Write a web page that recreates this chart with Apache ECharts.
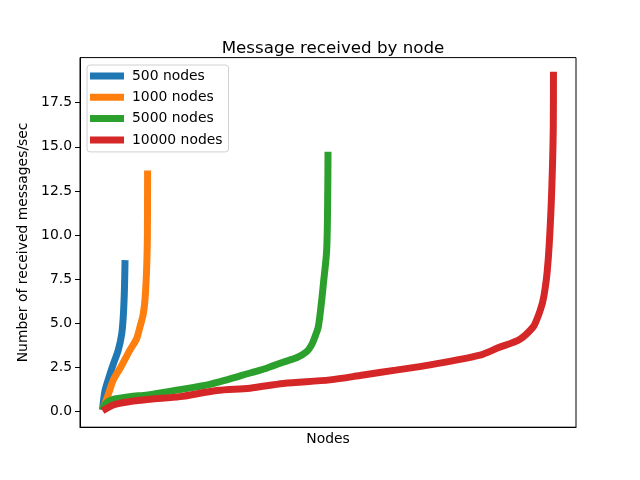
<!DOCTYPE html>
<html>
<head>
    <meta charset="UTF-8">
    <script type="text/javascript" src="https://cdn.jsdelivr.net/npm/echarts@6/dist/echarts.min.js"></script>
    <title>Message received by node</title>
    <style>
        html, body { margin: 0; padding: 0; background: #fff; }
        #chart { width: 640px; height: 480px; }
    </style>
</head>
<body>
    <div id="chart"></div>
    <script type="text/javascript">
    // sorted per-node rates (x = node index, y = messages/sec)
    var seriesNames = ['500 nodes', '1000 nodes', '5000 nodes', '10000 nodes'];
    var seriesColors = ['#1f77b4', '#ff7f0e', '#2ca02c', '#d62728'];
    var yTicks = [0, 2.5, 5, 7.5, 10, 12.5, 15, 17.5];

    var nodes500X = [0, 20, 55, 150, 240, 350, 425, 460, 485, 499];
    var nodes500Y = [0.1, 0.6, 1.2, 2.0, 2.7, 3.5, 4.4, 5.4, 6.9, 8.58];

    var nodes1000X = [0, 60, 130, 240, 400, 610, 750, 830, 900, 940, 970, 985, 995, 999];
    var nodes1000Y = [0.1, 0.5, 1.0, 1.8, 2.5, 3.5, 4.1, 4.8, 5.5, 6.3, 7.6, 8.7, 10.1, 13.66];

    var nodes5000X = [0, 50, 122, 233, 600, 1000, 1718, 2300, 2754, 3270, 3640, 4000, 4300, 4528, 4640, 4720, 4785, 4860, 4900, 4971, 4995, 5000];
    var nodes5000Y = [0.1, 0.4, 0.57, 0.7, 0.85, 0.95, 1.25, 1.5, 1.8, 2.19, 2.46, 2.8, 3.05, 3.4, 3.8, 4.3, 4.8, 6.3, 7.3, 9.16, 12.6, 14.72];

    var nodes10000X = [0, 240, 610, 1053, 1718, 2532, 3271, 4009, 5044, 5783, 6500, 7262, 8370, 8758, 9257, 9552, 9627, 9700, 9760, 9811, 9860, 9907, 9960, 9996, 10000];
    var nodes10000Y = [0.05, 0.38, 0.57, 0.7, 0.85, 1.2, 1.33, 1.6, 1.8, 2.08, 2.35, 2.65, 3.2, 3.6, 4.1, 4.8, 5.2, 5.7, 6.2, 6.9, 7.9, 9.5, 12.4, 16.1, 19.25];

    var allX = [nodes500X, nodes1000X, nodes5000X, nodes10000X];
    var allY = [nodes500Y, nodes1000Y, nodes5000Y, nodes10000Y];

    function zip(xs, ys) {
        var out = [];
        for (var i = 0; i < xs.length; i++) {
            out.push([xs[i], ys[i]]);
        }
        return out;
    }

    var font = 'DejaVu Sans';
    var fs = 13.9;
    var series = [];
    for (var s = 0; s < seriesNames.length; s++) {
        series.push({
            name: seriesNames[s],
            type: 'line',
            showSymbol: false,
            smooth: 0.3,
            lineStyle: { width: 7, color: seriesColors[s] },
            itemStyle: { color: seriesColors[s] },
            data: zip(allX[s], allY[s])
        });
    }

    var chart = echarts.init(document.getElementById('chart'));
    chart.setOption({
        animation: false,
        textStyle: { fontFamily: font },
        title: {
            text: 'Message received by node',
            left: 328,
            textAlign: 'center',
            top: 35,
            textStyle: { fontFamily: font, fontSize: 16.7, fontWeight: 'normal', color: '#000' }
        },
        legend: {
            orient: 'vertical',
            left: 87,
            top: 65,
            icon: 'rect',
            itemWidth: 34,
            itemHeight: 7,
            itemGap: 7.3,
            padding: [4, 6, 5, 3],
            backgroundColor: '#fff',
            borderColor: '#d0d0d0',
            borderWidth: 1,
            borderRadius: 3,
            textStyle: { fontFamily: font, fontSize: fs, color: '#000', padding: [0, 0, 0, 3] },
            data: seriesNames
        },
        grid: {
            left: 80,
            right: 64,
            top: 57.6,
            bottom: 52.8,
            show: true,
            borderColor: '#000',
            borderWidth: 1,
            backgroundColor: 'transparent'
        },
        xAxis: {
            type: 'value',
            min: -500,
            max: 10500,
            name: 'Nodes',
            nameLocation: 'middle',
            nameGap: 5,
            nameTextStyle: { fontFamily: font, fontSize: fs, color: '#000', verticalAlign: 'top' },
            axisLine: { show: true, onZero: false, lineStyle: { color: '#000' } },
            axisTick: { show: false },
            axisLabel: { show: false },
            splitLine: { show: false }
        },
        yAxis: {
            type: 'value',
            min: -0.88,
            max: 20.05,
            name: 'Number of received messages/sec',
            nameLocation: 'middle',
            nameGap: 41,
            nameTextStyle: { fontFamily: font, fontSize: fs, color: '#000' },
            axisLine: { show: true, onZero: false, lineStyle: { color: '#000' } },
            axisTick: { show: true, length: 5, customValues: yTicks, lineStyle: { color: '#000' } },
            axisLabel: {
                show: true,
                margin: 8,
                customValues: yTicks,
                fontFamily: font,
                fontSize: fs,
                color: '#000',
                formatter: function (v) { return v.toFixed(1); }
            },
            splitLine: { show: false }
        },
        series: series
    });
    </script>
</body>
</html>
